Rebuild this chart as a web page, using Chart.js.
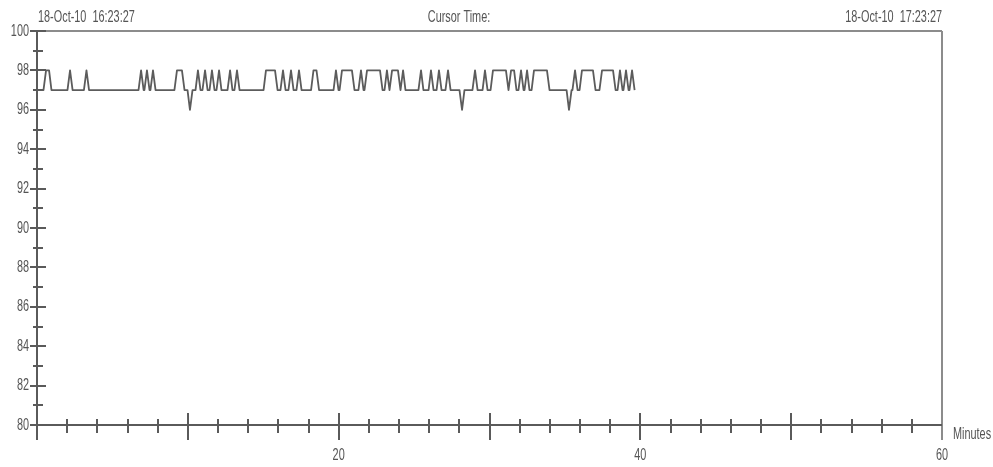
<!DOCTYPE html>
<html>
<head>
<meta charset="utf-8">
<script src="https://cdn.jsdelivr.net/npm/chart.js@4.4.1/dist/chart.umd.min.js"></script>
<style>
  html, body { margin: 0; padding: 0; background: #fff; }
  #wrap { width: 993px; height: 467px; }
</style>
</head>
<body>
<div id="wrap"><canvas id="trend"></canvas></div>
<script>
// trend readings, time in minutes from 16:23:27, value in %
const minutes = [
  0, 0.43, 0.60, 0.80, 0.96,
  2.02, 2.19, 2.36,
  3.11, 3.28, 3.45,
  6.73, 6.90, 7.07,
  7.12, 7.29, 7.46,
  7.52, 7.69, 7.86,
  9.11, 9.28, 9.61, 9.78,
  9.98, 10.14, 10.31,
  10.51, 10.67, 10.84,
  10.97, 11.14, 11.31,
  11.44, 11.60, 11.77,
  11.90, 12.07, 12.23,
  12.63, 12.80, 12.96,
  13.09, 13.26, 13.43,
  15.02, 15.18, 15.78, 15.95,
  16.14, 16.31, 16.48,
  16.67, 16.84, 17.01,
  17.20, 17.37, 17.54,
  18.17, 18.33, 18.53, 18.70,
  19.66, 19.82, 19.99,
  20.06, 20.22, 20.88, 21.05,
  21.31, 21.48, 21.65,
  21.71, 21.88, 22.74, 22.91,
  23.04, 23.20, 23.37,
  23.40, 23.54, 23.93, 24.10,
  24.27, 24.43,
  25.29, 25.46, 25.62,
  25.96, 26.12, 26.29,
  26.49, 26.65, 26.82,
  27.08, 27.25, 27.42,
  28.01, 28.18, 28.34,
  28.87, 29.04, 29.21,
  29.54, 29.70, 29.87,
  30.07, 30.23, 31.09, 31.26,
  31.43, 31.63, 31.79,
  31.92, 32.09, 32.26,
  32.32, 32.49, 32.65,
  32.79, 32.95, 33.81, 33.98,
  35.11, 35.27, 35.44,
  35.50, 35.67, 35.84,
  35.97, 36.13, 36.86, 37.03,
  37.29, 37.46, 38.19, 38.36,
  38.49, 38.65, 38.82,
  38.88, 39.05, 39.22,
  39.28, 39.45, 39.62
];
const readings = [
  97, 97, 98, 98, 97,
  97, 98, 97,
  97, 98, 97,
  97, 98, 97,
  97, 98, 97,
  97, 98, 97,
  97, 98, 98, 97,
  97, 96, 97,
  97, 98, 97,
  97, 98, 97,
  97, 98, 97,
  97, 98, 97,
  97, 98, 97,
  97, 98, 97,
  97, 98, 98, 97,
  97, 98, 97,
  97, 98, 97,
  97, 98, 97,
  97, 98, 98, 97,
  97, 98, 97,
  97, 98, 98, 97,
  97, 98, 97,
  97, 98, 98, 97,
  97, 98, 97,
  97, 98, 98, 97,
  98, 97,
  97, 98, 97,
  97, 98, 97,
  97, 98, 97,
  97, 98, 97,
  97, 96, 97,
  97, 98, 97,
  97, 98, 97,
  97, 98, 98, 97,
  98, 98, 97,
  97, 98, 97,
  97, 98, 97,
  97, 98, 98, 97,
  97, 96, 97,
  97, 98, 97,
  97, 98, 98, 97,
  97, 98, 98, 97,
  97, 98, 97,
  97, 98, 97,
  97, 98, 97
];

const startLabel = "18-Oct-10  16:23:27";
const endLabel = "18-Oct-10  17:23:27";
const cursorLabel = "Cursor Time:";
const xUnit = "Minutes";
const xLabelled = [20, 40, 60];

const FONT = '17px "Liberation Sans", Arial, sans-serif';
const TEXT = "#555";
const SQUEEZE = 0.64; // the original uses a condensed face

function narrowText(ctx, text, x, y, align) {
  ctx.save();
  ctx.translate(x, y);
  ctx.scale(SQUEEZE, 1);
  ctx.textAlign = align;
  ctx.fillText(text, 0, 0);
  ctx.restore();
}

const frame = {
  id: "frame",
  beforeDatasetsDraw(chart) {
    const { ctx, chartArea: a, scales: { x, y } } = chart;
    const seg = (x1, y1, x2, y2) => {
      ctx.beginPath();
      ctx.moveTo(x1, y1);
      ctx.lineTo(x2, y2);
      ctx.stroke();
    };
    ctx.save();
    ctx.lineWidth = 2;
    ctx.strokeStyle = "#8c8c8c";
    seg(a.left, a.top, a.right, a.top);
    seg(a.right, a.top, a.right, a.bottom + 15);
    ctx.strokeStyle = "#5a5a5a";
    seg(a.left, a.top, a.left, a.bottom + 15);
    seg(a.left, a.bottom, a.right, a.bottom);
    // y ticks, major every 2, minor every 1
    for (let v = 80; v <= 100; v++) {
      const py = Math.round(y.getPixelForValue(v));
      const major = v % 2 === 0;
      seg(a.left - (major ? 7 : 4), py, a.left + (major ? 9 : 6), py);
    }
    // x ticks, major every 10, minor every 2
    for (let v = 2; v < 60; v += 2) {
      const px = Math.round(x.getPixelForValue(v));
      const major = v % 10 === 0;
      seg(px, a.bottom - (major ? 12 : 6), px, a.bottom + (major ? 15 : 8));
    }
    ctx.restore();
  },
  afterDraw(chart) {
    const { ctx, chartArea: a, scales: { x, y } } = chart;
    ctx.save();
    ctx.fillStyle = TEXT;
    ctx.font = FONT;
    ctx.textBaseline = "middle";
    narrowText(ctx, startLabel, a.left + 1, 17, "left");
    narrowText(ctx, cursorLabel, 459, 17, "center");
    narrowText(ctx, endLabel, a.right, 17, "right");
    narrowText(ctx, xUnit, a.right + 11, a.bottom + 9, "left");
    y.ticks.forEach((t) => {
      narrowText(ctx, String(t.value), a.left - 8, y.getPixelForValue(t.value), "right");
    });
    x.ticks.forEach((t) => {
      if (xLabelled.includes(t.value)) {
        narrowText(ctx, String(t.value), x.getPixelForValue(t.value), a.bottom + 30, "center");
      }
    });
    ctx.restore();
  }
};

new Chart(document.getElementById("trend"), {
  type: "line",
  data: {
    datasets: [{
      data: minutes.map((m, i) => ({ x: m, y: readings[i] })),
      borderColor: "#5c5c5c",
      borderWidth: 1.8,
      borderJoinStyle: "round",
      pointRadius: 0,
      tension: 0,
      fill: false
    }]
  },
  options: {
    responsive: true,
    maintainAspectRatio: false,
    animation: false,
    layout: { padding: { left: 0, right: 51, top: 31, bottom: 0 } },
    plugins: { legend: { display: false }, tooltip: { enabled: false } },
    scales: {
      x: {
        type: "linear",
        min: 0,
        max: 60,
        grid: { display: false, drawTicks: false },
        border: { display: false },
        afterFit: (s) => { s.height = 42; },
        ticks: { stepSize: 20, display: false }
      },
      y: {
        min: 80,
        max: 100,
        grid: { display: false, drawTicks: false },
        border: { display: false },
        afterFit: (s) => { s.width = 37; },
        ticks: { stepSize: 2, display: false }
      }
    }
  },
  plugins: [frame]
});
</script>
</body>
</html>
